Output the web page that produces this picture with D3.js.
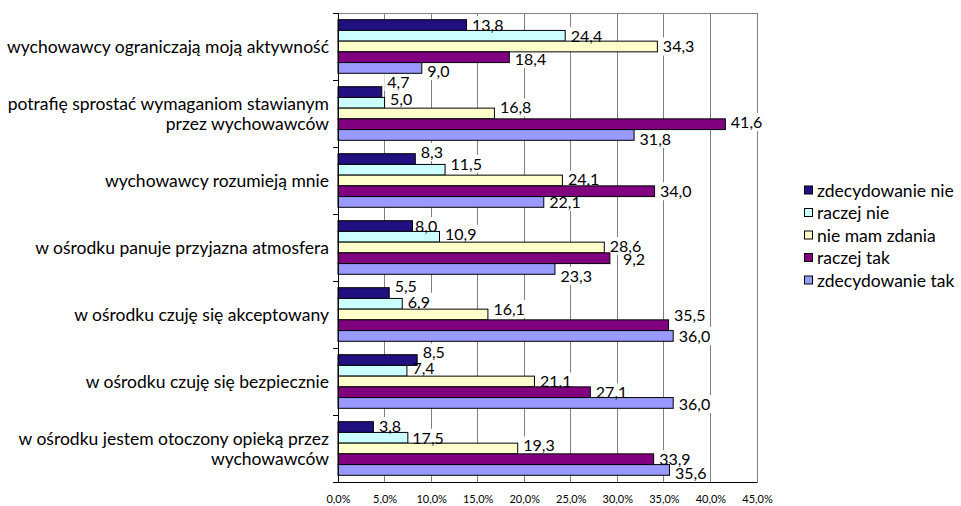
<!DOCTYPE html>
<html><head><meta charset="utf-8">
<script src="https://cdn.jsdelivr.net/npm/d3@7"></script>
<style>
html,body{margin:0;padding:0;background:#fff;}
svg{display:block;font-family:Lato,"Open Sans",sans-serif;}
</style></head>
<body><svg id="c" width="961" height="506"></svg>
<script>
// ---- data ----
const categories = [
  "wychowawcy ograniczają moją aktywność",
  "potrafię sprostać wymaganiom stawianym przez wychowawców",
  "wychowawcy rozumieją mnie",
  "w ośrodku panuje przyjazna atmosfera",
  "w ośrodku czuję się akceptowany",
  "w ośrodku czuję się bezpiecznie",
  "w ośrodku jestem otoczony opieką przez wychowawców"
];
const seriesNames = ["zdecydowanie nie","raczej nie","nie mam zdania","raczej tak","zdecydowanie tak"];
const zdecydowanieNie = [13.8, 4.7, 8.3, 8.0, 5.5, 8.5, 3.8];
const raczejNie       = [24.4, 5.0, 11.5, 10.9, 6.9, 7.4, 7.5];
const nieMamZdania    = [34.3, 16.8, 24.1, 28.6, 16.1, 21.1, 19.3];
const raczejTak       = [18.4, 41.6, 34.0, 29.2, 35.5, 27.1, 33.9];
const zdecydowanieTak = [9.0, 31.8, 22.1, 23.3, 36.0, 36.0, 35.6];
const xTicks = [0, 5, 10, 15, 20, 25, 30, 35, 40, 45];
// labels shown in the original that differ from the bar values ("category-series")
const labelOverride = {"3-3": "9,2", "6-1": "17,5"};

// ---- styling / layout ----
const colors = ["#201080", "#CCFFFF", "#FFFFCC", "#800080", "#9999FF"];
// manual nudges of data labels (vertical, px) as in the original
const labelDy = [
  [0, 0, 0, 2, 3],
  [-10, -4, -6, -2, 4],
  [-7, -6, -1, 0, 0],
  [0, -3, -1.5, 1, 7],
  [-7, -2, -5.5, -10, 0],
  [-7.5, -3, 0, 0, 1],
  [-1, 0, -3, 0, 3]
];
const labelDx = {"3-3": 7.5, "3-0": -3, "6-1": -1};

const allSeries = [zdecydowanieNie, raczejNie, nieMamZdania, raczejTak, zdecydowanieTak];
const L = 338, R = 757, T = 13, B = 482;
const svg = d3.select("#c");
const loc = d3.formatLocale({decimal: ",", thousands: " ", grouping: [3], currency: ["", " zł"]});
const f1 = loc.format(".1f");

const x = d3.scaleLinear().domain([0, 45]).range([L, R]);
const y0 = d3.scaleBand().domain(categories).range([T, B]);
const y1 = d3.scaleBand().domain(seriesNames).range([0, y0.bandwidth()]).paddingOuter(0.625);

// gridlines
svg.append("g").selectAll("line").data(xTicks.slice(1, -1)).join("line")
  .attr("x1", d => x(d)).attr("x2", d => x(d)).attr("y1", T).attr("y2", B)
  .attr("stroke", "#808080").attr("stroke-width", 1).attr("shape-rendering", "crispEdges");

// plot border
svg.append("rect").attr("x", L).attr("y", T).attr("width", R - L).attr("height", B - T)
  .attr("fill", "none").attr("stroke", "#808080").attr("shape-rendering", "crispEdges");

const rows = [];
categories.forEach((c, i) => seriesNames.forEach((s, j) => rows.push({c, i, s, j, v: allSeries[j][i]})));

// data label geometry
const lblRows = rows.map(d => {
  const key = d.i + "-" + d.j;
  const txt = labelOverride[key] !== undefined ? labelOverride[key] : f1(d.v);
  const cy = y0(d.c) + y1(d.s) + y1.bandwidth() / 2 + labelDy[d.i][d.j];
  const tx = x(d.v) + 5.5 + (labelDx[key] || 0);
  return {txt, cy, tx};
});
const boxG = svg.append("g");
const barG = svg.append("g");
const txtG = svg.append("g");

// bars
barG.selectAll("rect").data(rows).join("rect")
  .attr("x", x(0))
  .attr("y", d => y0(d.c) + y1(d.s))
  .attr("width", d => x(d.v) - x(0))
  .attr("height", y1.bandwidth())
  .attr("fill", d => colors[d.j])
  .attr("stroke", "#000").attr("stroke-width", 1);

// label texts with white boxes behind (hide gridlines)
lblRows.forEach(d => {
  const t = txtG.append("text").attr("x", d.tx).attr("y", d.cy + 5.8)
    .attr("font-size", "16px").attr("fill", "#000").text(d.txt);
  const w = t.node().getComputedTextLength();
  boxG.append("rect").attr("fill", "#fff")
    .attr("x", d.tx - 3).attr("y", d.cy - 9).attr("width", w + 6).attr("height", 18);
});

// axes lines
svg.append("line").attr("x1", L).attr("x2", L).attr("y1", T).attr("y2", B)
  .attr("stroke", "#000").attr("shape-rendering", "crispEdges");
svg.append("line").attr("x1", L - 5).attr("x2", R).attr("y1", B).attr("y2", B)
  .attr("stroke", "#000").attr("shape-rendering", "crispEdges");
// category tick marks
const bounds = categories.map(c => y0(c)).concat([B]);
svg.append("g").selectAll("line").data(bounds).join("line")
  .attr("x1", L - 5).attr("x2", L).attr("y1", d => d).attr("y2", d => d)
  .attr("stroke", "#000").attr("shape-rendering", "crispEdges");

// category labels
const catFs = "17.5px";
const catG = svg.append("g").attr("font-size", catFs).attr("fill", "#000");
function wrap(str, maxW) {
  const words = str.split(" ");
  const tmp = catG.append("text");
  const lines = [];
  let cur = "";
  words.forEach(w => {
    const test = cur ? cur + " " + w : w;
    tmp.text(test);
    if (tmp.node().getComputedTextLength() > maxW && cur) { lines.push(cur); cur = w; }
    else cur = test;
  });
  lines.push(cur);
  tmp.remove();
  return lines;
}
categories.forEach(c => {
  const lines = wrap(c, 326);
  const cy = y0(c) + y0.bandwidth() / 2;
  const lh = 20;
  lines.forEach((ln, k) => {
    const ly = cy + (k - (lines.length - 1) / 2) * lh;
    catG.append("text").attr("x", 329).attr("y", ly + 6)
      .attr("text-anchor", "end").text(ln);
  });
});

// x axis tick labels
const xAxis = d3.axisBottom(x).tickValues(xTicks).tickSize(0).tickPadding(13)
  .tickFormat(d => f1(d) + "%");
const ax = svg.append("g").attr("transform", `translate(0,${B})`).call(xAxis);
ax.select(".domain").remove();
ax.selectAll("text").attr("font-size", "11px").attr("font-family", "Lato, sans-serif").attr("fill", "#000");

// legend
const lg = svg.append("g").attr("font-size", "17.5px");
seriesNames.forEach((s, j) => {
  const ly = 190.5 + j * 22.5;
  lg.append("rect").attr("x", 804.5).attr("y", ly - 4.5).attr("width", 8).attr("height", 8)
    .attr("fill", colors[j]).attr("stroke", "#000").attr("stroke-width", 1);
  lg.append("text").attr("x", 817).attr("y", ly + 6).attr("fill", "#000").text(s);
});
</script></body></html>
